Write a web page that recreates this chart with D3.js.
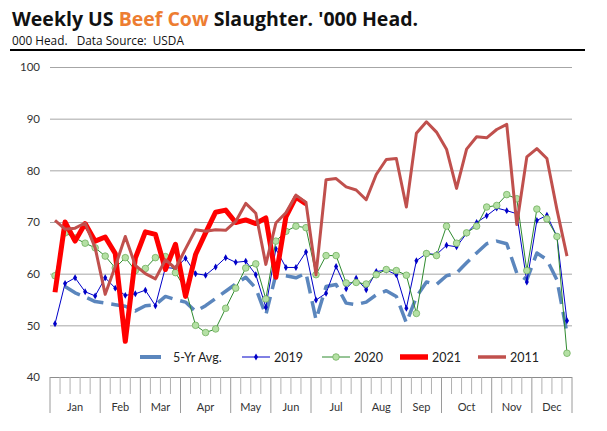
<!DOCTYPE html>
<html>
<head>
<meta charset="utf-8">
<script src="https://cdn.jsdelivr.net/npm/d3@7.9.0/dist/d3.min.js"></script>
<style>
  body { margin: 0; background: #fff; }
  svg { display: block; font-family: Lato, "Open Sans", sans-serif; }
  .pre { white-space: pre; }
</style>
</head>
<body>
<svg id="chart" width="607" height="431"></svg>
<script>
// months and how many weekly slots each one gets on the axis
const months = ['Jan', 'Feb', 'Mar', 'Apr', 'May', 'Jun', 'Jul', 'Aug', 'Sep', 'Oct', 'Nov', 'Dec'];
const monthWeeks = [5, 4, 4, 5, 4, 4, 5, 4, 4, 5, 4, 4];
const yTicks = [40, 50, 60, 70, 80, 90, 100];

// weekly slaughter, '000 head
const avg5 = [null, 57.5, 56.3, 55.5, 54.6, 54.3, 54.0, 53.7, 52.8, 53.8, 54.0, 55.6, 55.0,
  54.5, 52.7, 53.8, 55.2, 56.6, 58.0, 59.3, 57.2, 52.0, 59.8, 59.6, 59.2, 60.1,
  51.1, 57.5, 57.9, 54.3, 54.0, 54.5, 55.9, 56.7, 55.6, 50.5, 55.5, 58.4, 57.9,
  59.6, 60.1, 62.1, 64.0, 65.8, 66.3, 65.8, 60.1, 58.8, 64.0, 62.7, 58.8, 48.5];
const y2019 = [50.3, 58.1, 59.2, 56.5, 55.7, 59.2, 57.2, 55.8, 56.1, 56.8, 53.8, 61.2, 61.0,
  63.0, 60.0, 59.7, 61.3, 63.1, 62.2, 62.4, 59.8, 53.5, 64.8, 61.2, 61.2, 64.2,
  54.9, 56.2, 61.4, 57.1, 59.1, 56.9, 60.4, 60.7, 59.8, 53.3, 62.5, 63.9, 63.7,
  65.5, 65.2, 67.8, 69.9, 71.2, 72.7, 72.2, 71.6, 58.4, 70.3, 71.3, 67.2, 50.9];
const y2020 = [59.6, 67.9, 66.9, 65.9, 65.0, 63.4, 61.1, 63.1, 60.6, 61.0, 63.1, 63.3, 60.2,
  57.0, 50.0, 48.6, 49.3, 53.3, 57.2, 61.1, 61.9, 55.1, 66.3, 68.2, 69.2, 68.9,
  59.8, 63.5, 63.5, 58.2, 58.3, 58.0, 59.8, 60.8, 60.6, 59.7, 52.3, 63.9, 63.5,
  69.2, 65.9, 67.9, 69.2, 72.9, 73.2, 75.3, 74.5, 60.6, 72.5, 70.6, 67.2, 44.6];
const y2021 = [56.4, 70.0, 66.3, 69.7, 66.3, 67.1, 63.9, 46.9, 63.0, 68.1, 67.6, 60.8, 65.7,
  55.6, 63.7, 67.9, 71.9, 72.3, 69.9, 70.4, 69.7, 70.8, 59.3, 71.0, 74.8, 73.5];
const y2011 = [70.3, 68.6, 68.8, 69.8, 65.0, 56.0, 61.4, 67.2, 61.6, 60.0, 59.0, 62.7, 61.0,
  64.8, 68.5, 68.2, 68.5, 68.4, 70.1, 73.6, 71.7, 61.8, 69.8, 71.8, 75.2, 73.8,
  59.8, 78.2, 78.4, 76.8, 76.2, 74.3, 79.2, 82.1, 82.3, 72.9, 87.2, 89.4, 87.4,
  84.1, 76.5, 84.1, 86.5, 86.3, 87.9, 88.9, 69.5, 82.6, 84.2, 82.3, 72.4, 63.4];

const svg = d3.select('#chart');
svg.append('rect').attr('width', 607).attr('height', 431).attr('fill', '#fff');

// title block
const title = svg.append('text').attr('x', 12).attr('y', 26)
  .attr('font-family', '"Open Sans", sans-serif')
  .attr('font-size', 19.5).attr('font-weight', 'bold').attr('fill', '#111');
title.append('tspan').text('Weekly US ');
title.append('tspan').attr('fill', '#ED7D31').text('Beef Cow');
title.append('tspan').text(" Slaughter. '000 Head.");
svg.append('text').attr('class', 'pre').attr('x', 12).attr('y', 45)
  .attr('font-family', '"Open Sans", sans-serif').attr('font-size', 11.8).attr('fill', '#111')
  .text('000 Head.   Data Source:  USDA');
svg.append('line').attr('x1', 10).attr('x2', 585).attr('y1', 50).attr('y2', 50)
  .attr('stroke', '#000').attr('stroke-width', 2);

// scales
const nWeeks = d3.sum(monthWeeks);
const x = d3.scaleBand().domain(d3.range(nWeeks)).range([50, 572]);
const y = d3.scaleLinear().domain([40, 100]).range([377, 67]);
const cx = (i) => x(i) + x.bandwidth() / 2;

// y gridlines + labels
const yAxis = svg.append('g').attr('transform', 'translate(50,0)')
  .call(d3.axisLeft(y).tickValues(yTicks).tickSize(-522).tickPadding(10));
yAxis.select('.domain').remove();
yAxis.selectAll('.tick line').attr('stroke', (d) => d === 40 ? '#8c8c8c' : '#a6a6a6');
yAxis.selectAll('.tick text').attr('font-size', 11.5).attr('fill', '#333')
  .attr('font-family', 'Lato, "Open Sans", sans-serif');

// x axis: a tick for every week, longer ones where a month starts
const monthStart = [0];
monthWeeks.forEach((n, i) => monthStart.push(monthStart[i] + n));
const xAxis = svg.append('g');
d3.range(nWeeks + 1).forEach((i) => {
  const xx = i < nWeeks ? x(i) : x(nWeeks - 1) + x.bandwidth();
  const isMonth = monthStart.includes(i);
  xAxis.append('line').attr('x1', xx).attr('x2', xx).attr('y1', 377)
    .attr('y2', isMonth ? 413 : 394)
    .attr('stroke', isMonth ? '#9a9a9a' : '#b0b0b0');
});
months.forEach((m, i) => {
  const a = x(monthStart[i]);
  const b = x(monthStart[i + 1] - 1) + x.bandwidth();
  xAxis.append('text').attr('x', (a + b) / 2).attr('y', 411)
    .attr('text-anchor', 'middle').attr('font-size', 11).attr('fill', '#333').text(m);
});

// series
const line = d3.line().defined((d) => d != null).x((d, i) => cx(i)).y((d) => y(d));
const series = [
  { name: '5-Yr Avg.', values: avg5, color: '#5b86bd', width: 3.5, dash: '17,8' },
  { name: '2019', values: y2019, color: '#0000c8', width: 1, marker: 'diamond' },
  { name: '2020', values: y2020, color: '#2f8a2f', width: 1, marker: 'circle' },
  { name: '2021', values: y2021, color: '#ff0000', width: 5 },
  { name: '2011', values: y2011, color: '#c0504d', width: 3 },
];

series.forEach((s) => {
  svg.append('path').datum(s.values).attr('d', line).attr('fill', 'none')
    .attr('stroke', s.color).attr('stroke-width', s.width)
    .attr('stroke-dasharray', s.dash || null).attr('stroke-linejoin', 'round');
  if (s.marker === 'diamond') {
    svg.append('g').selectAll('path').data(s.values).join('path')
      .attr('d', d3.symbol(d3.symbolDiamond, 14))
      .attr('transform', (d, i) => `translate(${cx(i)},${y(d)})`)
      .attr('fill', s.color);
  }
  if (s.marker === 'circle') {
    svg.append('g').selectAll('circle').data(s.values).join('circle')
      .attr('cx', (d, i) => cx(i)).attr('cy', (d) => y(d)).attr('r', 3.3)
      .attr('fill', '#b4e0a4').attr('stroke', '#72b060').attr('stroke-width', 0.8);
  }
});

// legend
const legendX = [140, 242, 322, 400, 478];
const legend = svg.append('g');
series.forEach((s, i) => {
  const lx = legendX[i];
  const w = i === 0 ? 21 : 28;
  legend.append('line').attr('x1', lx).attr('x2', lx + w).attr('y1', 357).attr('y2', 357)
    .attr('stroke', s.color).attr('stroke-width', s.width === 1 ? 1 : s.width + 0.5);
  if (s.marker === 'diamond') {
    legend.append('path').attr('d', d3.symbol(d3.symbolDiamond, 14))
      .attr('transform', `translate(${lx + w / 2},357)`).attr('fill', s.color);
  }
  if (s.marker === 'circle') {
    legend.append('circle').attr('cx', lx + w / 2).attr('cy', 357).attr('r', 3.3)
      .attr('fill', '#b4e0a4').attr('stroke', '#72b060').attr('stroke-width', 0.8);
  }
  legend.append('text').attr('x', lx + w + (i === 0 ? 12 : 4)).attr('y', 361.5)
    .attr('font-size', 12.5).attr('fill', '#222').text(s.name);
});
</script>
</body>
</html>
